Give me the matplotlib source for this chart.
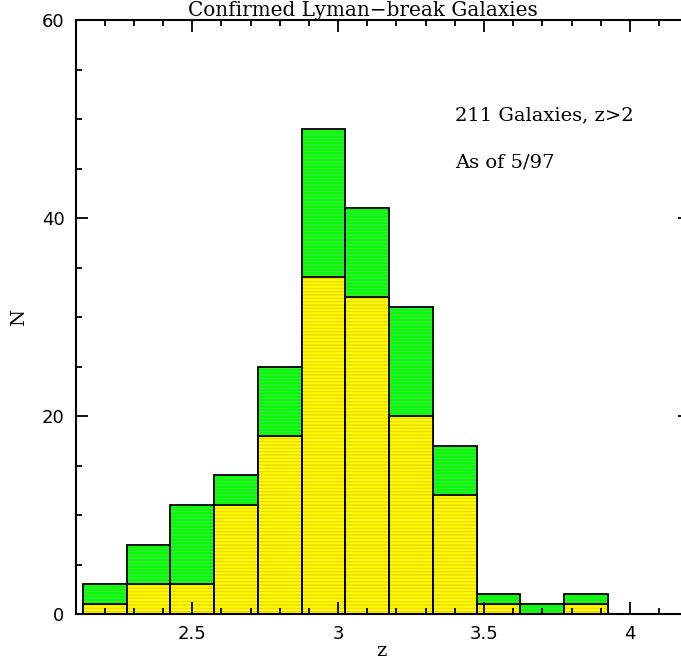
import numpy as np
import matplotlib
matplotlib.use('Agg')
import matplotlib.pyplot as plt
from matplotlib.ticker import MultipleLocator

# redshift bins (width 0.15) and counts per bin
bin_edges = [2.125, 2.275, 2.425, 2.575, 2.725, 2.875, 3.025,
             3.175, 3.325, 3.475, 3.625, 3.775, 3.925]
n_all = [3, 7, 11, 14, 25, 49, 41, 31, 17, 2, 1, 2]
n_sub = [1, 3, 3, 11, 18, 34, 32, 20, 12, 1, 0, 1]

title = 'Confirmed Lyman\u2212break Galaxies'
notes = ['211 Galaxies, z>2', 'As of 5/97']

plt.rcParams['hatch.linewidth'] = 1.0
serif = 'DejaVu Serif'

fig = plt.figure(figsize=(6.81, 6.59), dpi=100)
# right edge of the frame sits just past the figure border
x0, x1 = 75.5, 690
ax = fig.add_axes([x0 / 681, 45 / 659, (x1 - x0) / 681, 594 / 659])

left = np.array(bin_edges[:-1])
width = np.diff(bin_edges)


def hist_layer(counts, face, stripe):
    # flat fill, then thin horizontal stripes, then black outline
    ax.bar(left, counts, width=width, align='edge', color=face, linewidth=0)
    ax.bar(left, counts, width=width, align='edge', color='none',
           edgecolor=stripe, hatch='-----', linewidth=0)
    ax.bar(left, counts, width=width, align='edge', color='none',
           edgecolor='black', linewidth=1.3)


hist_layer(n_all, '#00ff00', '#3ce63c')
hist_layer(n_sub, '#ffff00', '#f0d800')

ax.set_xlim(2.1, 4.206)
ax.set_ylim(0, 60)
ax.xaxis.set_major_locator(MultipleLocator(0.5))
ax.xaxis.set_minor_locator(MultipleLocator(0.1))
ax.yaxis.set_major_locator(MultipleLocator(20))
ax.yaxis.set_minor_locator(MultipleLocator(5))
ax.xaxis.set_major_formatter(plt.FuncFormatter(lambda v, p: f'{v:g}'))

ax.tick_params(which='both', direction='in', top=True, right=True,
               labelsize=13, width=1.3, colors='black')
ax.tick_params(which='major', length=8.5)
ax.tick_params(which='minor', length=4.2)
ax.tick_params(axis='x', pad=8)
ax.tick_params(axis='y', pad=8)
for s in ax.spines.values():
    s.set_linewidth(1.5)

ax.set_xlabel('z', family=serif, fontsize=14, labelpad=-1)
ax.set_ylabel('N', family=serif, fontsize=14, labelpad=10)
ax.xaxis.label.set_x((381 - x0) / (x1 - x0))

fig.text(363 / 681, 1 - 11 / 659, title, family=serif, fontsize=14.4,
         ha='center', va='center')
ax.text(3.40, 50.4, notes[0], family=serif, fontsize=14, va='center')
ax.text(3.40, 45.6, notes[1], family=serif, fontsize=14, va='center')

fig.savefig('out.png', dpi=100)
